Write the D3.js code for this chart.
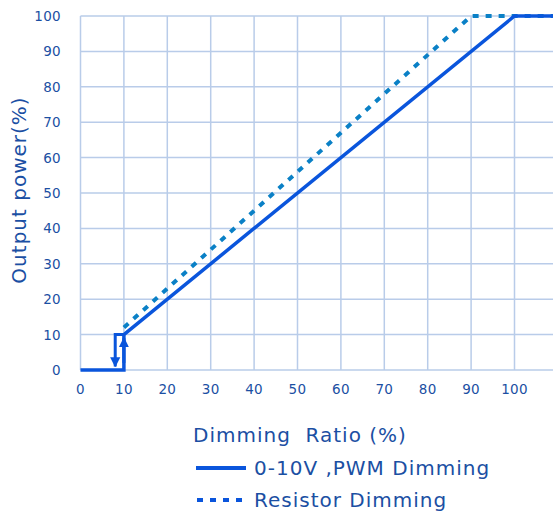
<!DOCTYPE html>
<html>
<head>
<meta charset="utf-8">
<script src="https://cdn.jsdelivr.net/npm/d3@7"></script>
<style>
  body { margin: 0; background: #fff; }
  svg text { font-family: "DejaVu Sans", sans-serif; fill: #1b4fa3; }
</style>
</head>
<body>
<div id="chart"></div>
<script>
// dimming curve data
const xTicks = [0, 10, 20, 30, 40, 50, 60, 70, 80, 90, 100];
const yTicks = [0, 10, 20, 30, 40, 50, 60, 70, 80, 90, 100];
const pwmX = [0, 10, 10, 100, 109];
const pwmY = [0, 0, 10, 100, 100];
const resistorX = [10, 90, 109];
const resistorY = [12, 100, 100];
// hysteresis loop: down at 8, up at 10
const loopX = [10, 8, 8];
const loopY = [10, 10, 1];
const upArrowX = [10, 10];
const upArrowY = [2, 9];

const width = 553, height = 513;
const margin = { left: 80.5, top: 16, bottom: 143 };

const x = d3.scaleLinear().domain([0, 100]).range([margin.left, 514.5]);
const y = d3.scaleLinear().domain([0, 100]).range([370, margin.top]);

const svg = d3.select('#chart').append('svg')
    .attr('width', width)
    .attr('height', height);

const defs = svg.append('defs');
defs.append('marker')
    .attr('id', 'arrow')
    .attr('viewBox', '0 0 10 10')
    .attr('refX', 9).attr('refY', 5)
    .attr('markerWidth', 3.4).attr('markerHeight', 3.8)
    .attr('markerUnits', 'strokeWidth')
    .attr('orient', 'auto')
    .append('path')
    .attr('d', 'M0,0L10,5L0,10Z')
    .attr('fill', '#0a55dc');

// grid
const grid = svg.append('g');
grid.selectAll('.vline')
    .data(xTicks)
    .enter().append('line')
    .attr('x1', d => x(d)).attr('x2', d => x(d))
    .attr('y1', y(100)).attr('y2', y(0))
    .style('stroke', '#b9cce9')
    .style('stroke-width', 1.5);
grid.selectAll('.hline')
    .data(yTicks)
    .enter().append('line')
    .attr('x1', x(0)).attr('x2', width)
    .attr('y1', d => y(d)).attr('y2', d => y(d))
    .style('stroke', '#b9cce9')
    .style('stroke-width', 1.5);

// tick labels
svg.append('g').selectAll('text')
    .data(yTicks)
    .enter().append('text')
    .attr('x', 61)
    .attr('y', d => y(d) + 5)
    .attr('text-anchor', 'end')
    .style('font-size', '13.5px')
    .style('letter-spacing', '0.3px')
    .text(d => d);

svg.append('g').selectAll('text')
    .data(xTicks)
    .enter().append('text')
    .attr('x', d => x(d))
    .attr('y', 394)
    .attr('text-anchor', 'middle')
    .style('font-size', '13.5px')
    .style('letter-spacing', '0.3px')
    .text(d => d);

// axis titles
svg.append('text')
    .attr('transform', `translate(26,${y(50) - 3}) rotate(-90)`)
    .attr('text-anchor', 'middle')
    .style('font-size', '20px')
    .style('letter-spacing', '1px')
    .text('Output power(%)');

svg.append('text')
    .attr('x', 193)
    .attr('y', 442)
    .style('font-size', '20px')
    .style('letter-spacing', '1px')
    .attr('xml:space', 'preserve')
    .text('Dimming  Ratio (%)');

const line = d3.line().x(d => x(d[0])).y(d => y(d[1]));
const zip = (a, b) => a.map((v, i) => [v, b[i]]);

svg.append('path')
    .attr('d', line(zip(resistorX, resistorY)))
    .style('fill', 'none')
    .style('stroke', '#0a80c6')
    .style('stroke-width', 4)
    .style('stroke-dasharray', '6,7');

svg.append('path')
    .attr('d', line(zip(pwmX, pwmY)))
    .style('fill', 'none')
    .style('stroke', '#0a55dc')
    .style('stroke-width', 3.5);

svg.append('path')
    .attr('d', line(zip(loopX, loopY)))
    .style('fill', 'none')
    .style('stroke', '#0a55dc')
    .style('stroke-width', 3)
    .attr('marker-end', 'url(#arrow)');

svg.append('path')
    .attr('d', line(zip(upArrowX, upArrowY)))
    .style('fill', 'none')
    .style('stroke', '#0a55dc')
    .style('stroke-width', 3)
    .attr('marker-end', 'url(#arrow)');

// legend
const legend = svg.append('g');
legend.append('line')
    .attr('x1', 196).attr('x2', 246)
    .attr('y1', 468).attr('y2', 468)
    .style('stroke', '#0a55dc')
    .style('stroke-width', 4);
legend.append('text')
    .attr('x', 254).attr('y', 475)
    .style('font-size', '20px')
    .style('letter-spacing', '1px')
    .text('0-10V ,PWM Dimming');
legend.append('line')
    .attr('x1', 197).attr('x2', 248)
    .attr('y1', 500).attr('y2', 500)
    .style('stroke', '#0a55dc')
    .style('stroke-width', 4)
    .style('stroke-dasharray', '6,7');
legend.append('text')
    .attr('x', 254).attr('y', 507)
    .style('font-size', '20px')
    .style('letter-spacing', '1px')
    .text('Resistor Dimming');
</script>
</body>
</html>
